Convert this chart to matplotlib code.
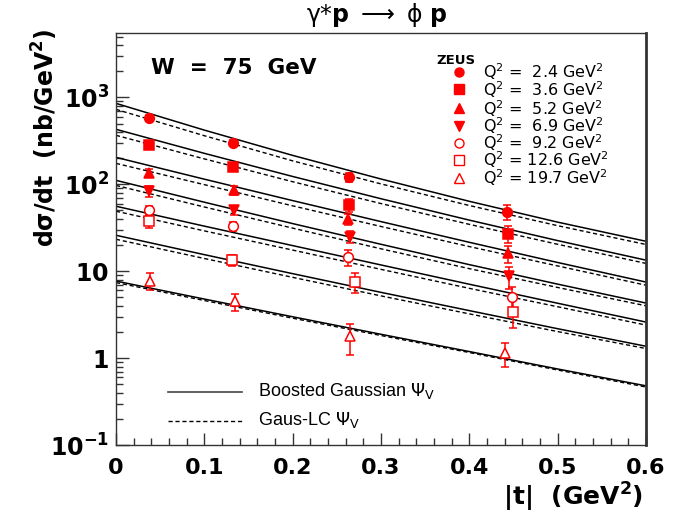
import numpy as np
import matplotlib
matplotlib.use('Agg')
import matplotlib.pyplot as plt

plt.rcParams['font.family'] = ['DejaVu Sans']
plt.rcParams['mathtext.fontset'] = 'dejavusans'

# ZEUS data, W = 75 GeV
q2_labels = ['2.4', '3.6', '5.2', '6.9', '9.2', '12.6', '19.7']
markers = ['o', 's', '^', 'v', 'o', 's', '^']
filled = [True, True, True, True, False, False, False]

t_data = [
    [0.037, 0.132, 0.264, 0.443],
    [0.037, 0.132, 0.264, 0.444],
    [0.037, 0.134, 0.263, 0.444],
    [0.037, 0.134, 0.265, 0.445],
    [0.037, 0.132, 0.263, 0.448],
    [0.037, 0.131, 0.271, 0.449],
    [0.039, 0.135, 0.265, 0.441],
]
xsec = [
    [580, 300, 120, 48],
    [285, 160, 58, 27],
    [135, 85, 40, 16],
    [84, 50, 25, 8.8],
    [50, 33, 14.5, 5.1],
    [38, 13.5, 7.6, 3.4],
    [7.8, 4.5, 1.8, 1.15],
]
xsec_err = [
    [40, 20, 15, 9],
    [25, 15, 10, 6],
    [15, 10, 6, 3.5],
    [12, 6, 4, 2.5],
    [6, 4, 3, 1.5],
    [7, 2, 2, 1.2],
    [1.8, 1.0, 0.7, 0.35],
]

t_model = [0.0, 0.1, 0.2, 0.3, 0.4, 0.5, 0.6]
bg_curves = [  # Boosted Gaussian
    [853, 420, 215, 115, 63.7, 36.7, 22.1],
    [429, 227, 123, 68.2, 38.7, 22.5, 13.4],
    [204, 114.5, 64.9, 37.2, 21.5, 12.6, 7.5],
    [111, 62.2, 35.3, 20.4, 11.9, 7.1, 4.3],
    [55.9, 33.0, 19.7, 11.8, 7.08, 4.28, 2.6],
    [25.9, 15.5, 9.37, 5.71, 3.52, 2.18, 1.37],
    [7.7, 4.78, 2.99, 1.88, 1.19, 0.75, 0.48],
]
lc_curves = [  # Gaus-LC
    [728, 362, 186, 101, 57, 33.4, 20.3],
    [366, 196, 107, 60, 34.6, 20.4, 12.3],
    [174, 99, 56.5, 32.7, 19.2, 11.5, 6.9],
    [97, 54.8, 31.3, 18.1, 10.7, 6.5, 4.0],
    [49, 29.1, 17.5, 10.5, 6.35, 3.9, 2.4],
    [23.3, 14.0, 8.5, 5.2, 3.23, 2.02, 1.29],
    [7.4, 4.6, 2.88, 1.82, 1.16, 0.73, 0.465],
]

fig = plt.figure(figsize=(6.77, 5.14), dpi=100)
ax = fig.add_axes([0.1713, 0.1342, 0.954 - 0.1713, 0.9358 - 0.1342])

for i in range(len(bg_curves)):
    ax.plot(t_model, bg_curves[i], color='black', lw=1.1)
    ax.plot(t_model, lc_curves[i], color='black', lw=1.0, ls=(0, (3, 2)))

for i in range(len(xsec)):
    ax.errorbar(t_data[i], xsec[i], yerr=xsec_err[i], fmt=markers[i], color='red',
                ms=7, mfc='red' if filled[i] else 'white', mec='red', mew=1.1,
                elinewidth=1.1, capsize=3, capthick=1.1, zorder=5)

ax.set_yscale('log')
ax.set_xlim(0, 0.6)
ax.set_ylim(0.1, 5500)

ax.set_xticks(np.arange(0, 0.61, 0.1))
ax.set_xticks(np.arange(0, 0.61, 0.02), minor=True)
ax.set_xticklabels(['0', '0.1', '0.2', '0.3', '0.4', '0.5', '0.6'],
                   fontsize=16, fontweight='bold')
ax.set_yticks([0.1, 1, 10, 100, 1000])
ax.set_yticklabels([r'$\mathbf{10^{-1}}$', r'$\mathbf{1}$', r'$\mathbf{10}$',
                    r'$\mathbf{10^{2}}$', r'$\mathbf{10^{3}}$'], fontsize=17)
ax.tick_params(which='both', direction='in', top=False, right=False, color='#333333')
ax.tick_params(which='major', length=9, width=1)
ax.tick_params(axis='x', which='major', pad=9)
ax.tick_params(axis='y', which='major', pad=5)
ax.tick_params(which='minor', length=5, width=1)
for s in ['left', 'bottom', 'top']:
    ax.spines[s].set_color('#333333')
    ax.spines[s].set_linewidth(1)
ax.spines['right'].set_linewidth(2)
ax.spines['right'].set_color('#333333')

fig.text(0.95, 0.033, r'|t|  (GeV$^{\mathbf{2}}$)', fontsize=18, fontweight='bold',
         ha='right', va='center')
fig.text(0.066, 0.945, r'd$\mathbf{\sigma}$/dt  (nb/GeV$^{\mathbf{2}}$)', fontsize=17,
         fontweight='bold', rotation=90, ha='center', va='top')
fig.text(0.557, 0.970,
         r'$\mathrm{\gamma}$*$\mathbf{p}$ $\longrightarrow$ $\mathrm{\phi}$ $\mathbf{p}$',
         fontsize=17, ha='center', va='center')

ax.text(0.066, 0.915, 'W  =  75  GeV', transform=ax.transAxes, fontsize=15.5,
        fontweight='bold', ha='left', va='center')

# ZEUS legend
ax.text(0.605, 0.933, 'ZEUS', transform=ax.transAxes, fontsize=9.5,
        fontweight='bold', ha='left', va='center')
row_y = [0.905, 0.863, 0.817, 0.775, 0.733, 0.692, 0.648]
for i in range(len(q2_labels)):
    ax.plot([0.647], [row_y[i]], marker=markers[i], transform=ax.transAxes,
            color='red', ms=6.5, mfc='red' if filled[i] else 'white', mec='red',
            mew=1, clip_on=False)
    ax.text(0.692, row_y[i], r'Q$^2$ = ' + (' ' if len(q2_labels[i]) == 3 else '')
            + q2_labels[i] + r' GeV$^2$', transform=ax.transAxes, fontsize=11.5,
            ha='left', va='center')

# model legend
ax.plot([0.098, 0.238], [0.129, 0.129], transform=ax.transAxes, color='#444444', lw=1.2)
ax.plot([0.098, 0.238], [0.058, 0.058], transform=ax.transAxes, color='black', lw=1,
        ls=(0, (3, 2)))
ax.text(0.268, 0.132, r'Boosted Gaussian $\Psi_{\mathrm{V}}$', transform=ax.transAxes,
        fontsize=13, family='Liberation Sans', ha='left', va='center')
ax.text(0.268, 0.061, r'Gaus-LC $\Psi_{\mathrm{V}}$', transform=ax.transAxes,
        fontsize=13, family='Liberation Sans', ha='left', va='center')

fig.savefig('out.png', dpi=100)
